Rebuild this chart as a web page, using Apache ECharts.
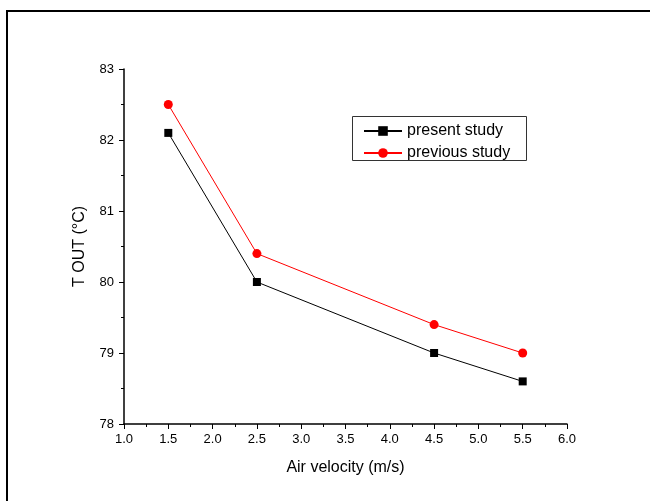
<!DOCTYPE html>
<html>
<head>
<meta charset="utf-8">
<script src="https://cdn.jsdelivr.net/npm/echarts@6/dist/echarts.min.js"></script>
<style>
html,body{margin:0;padding:0;background:#fff;}
#c{width:650px;height:501px;}
</style>
</head>
<body>
<div id="c"></div>
<script>
var xValues = [1.5, 2.5, 4.5, 5.5];
var presentStudy = [82.1, 80.0, 79.0, 78.6];
var previousStudy = [82.5, 80.4, 79.4, 79.0];
var seriesNames = ['present study', 'previous study'];
var xAxisTitle = 'Air velocity (m/s)';
var yAxisTitle = 'T OUT (°C)';

function pairs(xs, ys) { return xs.map(function (x, i) { return [x, ys[i]]; }); }

var font = 'Liberation Sans, Arial, sans-serif';
var chart = echarts.init(document.getElementById('c'), null, {renderer: 'canvas'});
chart.setOption({
  animation: false,
  backgroundColor: '#fff',
  graphic: [
    {type: 'line', shape: {x1: 6, y1: 11, x2: 650, y2: 11}, style: {stroke: '#000', lineWidth: 2}},
    {type: 'line', shape: {x1: 7, y1: 10, x2: 7, y2: 501}, style: {stroke: '#000', lineWidth: 2}},
    {type: 'rect', shape: {x: 352.5, y: 116.5, width: 174, height: 44}, style: {fill: 'none', stroke: '#333', lineWidth: 1}, z: 100}
  ],
  grid: {left: 124, right: 83, top: 69, bottom: 77, containLabel: false},
  legend: {
    left: 352, top: 116, orient: 'vertical',
    padding: [6, 8, 4, 11],
    itemGap: 4,
    itemWidth: 38, itemHeight: 12,
    textStyle: {fontFamily: font, fontSize: 16, lineHeight: 18, color: '#000', padding: [0, 0, 0, 0]},
    data: seriesNames
  },
  xAxis: {
    type: 'value', min: 1, max: 6, interval: 0.5,
    name: xAxisTitle, nameLocation: 'middle', nameGap: 36,
    nameTextStyle: {fontFamily: font, fontSize: 16, color: '#000'},
    axisLine: {lineStyle: {color: '#000', width: 1.5}},
    axisTick: {inside: false, length: 5, lineStyle: {color: '#000', width: 1}},
    minorTick: {show: true, splitNumber: 2, length: 3, lineStyle: {color: '#000', width: 1}},
    axisLabel: {fontFamily: font, fontSize: 13, color: '#000', margin: 9,
      formatter: function (v) { return v.toFixed(1); }},
    splitLine: {show: false}
  },
  yAxis: {
    type: 'value', min: 78, max: 83, interval: 1,
    name: yAxisTitle, nameLocation: 'middle', nameGap: 36, nameRotate: 90,
    nameTextStyle: {fontFamily: font, fontSize: 16, color: '#000'},
    axisLine: {show: true, lineStyle: {color: '#000', width: 1.5}},
    axisTick: {show: true, inside: false, length: 5, lineStyle: {color: '#000', width: 1}},
    minorTick: {show: true, splitNumber: 2, length: 3, lineStyle: {color: '#000', width: 1}},
    axisLabel: {fontFamily: font, fontSize: 13, color: '#000', margin: 10},
    splitLine: {show: false}
  },
  series: [
    {
      name: seriesNames[0], type: 'line', data: pairs(xValues, presentStudy),
      symbol: 'rect', symbolSize: 8,
      lineStyle: {color: '#000', width: 1},
      itemStyle: {color: '#000'}
    },
    {
      name: seriesNames[1], type: 'line', data: pairs(xValues, previousStudy),
      symbol: 'circle', symbolSize: 9,
      lineStyle: {color: '#ff0000', width: 1},
      itemStyle: {color: '#ff0000'}
    }
  ]
});
</script>
</body>
</html>
